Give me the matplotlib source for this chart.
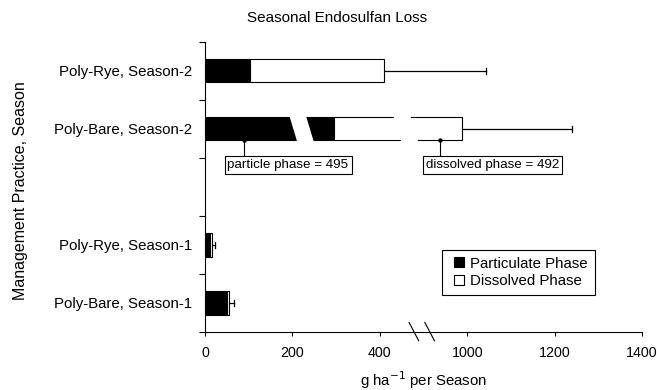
import matplotlib.pyplot as plt
from matplotlib.patches import Polygon
from matplotlib.lines import Line2D

plt.rcParams["font.family"] = ["Liberation Sans", "DejaVu Sans"]

# data, top to bottom (g ha-1 per season)
categories = ["Poly-Rye, Season-2", "Poly-Bare, Season-2",
              "Poly-Rye, Season-1", "Poly-Bare, Season-1"]
particulate = [103, 495, 11, 50]
dissolved = [306, 492, 6, 6]
err = [635, 253, 6, 10]
# amount hidden in the broken bar segments
cut = [0, 200, 0, 0]
slots = [0, 1, 3, 4]  # empty slot between seasons

tick_vals = [0, 200, 400, 1000, 1200, 1400]
BREAK_LO, BREAK_HI = 500, 900


def to_axis(v):
    # axis is broken between 500 and 900
    return v if v <= BREAK_LO else v - (BREAK_HI - BREAK_LO)


fig = plt.figure(figsize=(6.57, 3.90), dpi=100)
ax = fig.add_axes([205 / 657, 58 / 390, 437 / 657, 290.3 / 390])

h = 0.4
part_len = [p - c for p, c in zip(particulate, cut)]
tot_end = [to_axis(p + d) for p, d in zip(particulate, dissolved)]
dis_len = [t - p for t, p in zip(tot_end, part_len)]
err_end = [to_axis(p + d + e) for p, d, e in zip(particulate, dissolved, err)]

ax.barh(slots, part_len, height=h, color="black", edgecolor="black", lw=0.8, zorder=2)
ax.barh(slots, dis_len, left=part_len, height=h, color="white",
        edgecolor="black", lw=0.8, zorder=2)
for y, t, e in zip(slots, tot_end, err_end):
    ax.plot([t, e], [y, y], color="black", lw=0.9, zorder=1)
    ax.plot([e, e], [y - 0.05, y + 0.05], color="black", lw=0.9, zorder=1)

# slanted breaks inside the Poly-Bare, Season-2 bar
yb = slots[1]
for x0, w in [(194, 38), (432, 39)]:
    s = 16
    e = 0.03
    poly = Polygon([(x0 - s * e / h, yb - h / 2 - e), (x0 + w - s * e / h, yb - h / 2 - e),
                    (x0 + w + s + s * e / h, yb + h / 2 + e), (x0 + s + s * e / h, yb + h / 2 + e)],
                   closed=True, facecolor="white", edgecolor="none", zorder=3)
    ax.add_patch(poly)

# callouts
for lx, bx, txt in [(89, 190, "particle phase = 495"), (537, 658, "dissolved phase = 492")]:
    ax.plot([lx, lx], [yb + h / 2, 1.47], color="black", lw=0.8, zorder=4)
    ax.plot([lx], [yb + h / 2], marker="o", ms=2.2, color="black", zorder=4)
    ax.text(bx, 1.625, txt, ha="center", va="center", fontsize=9.6, zorder=5,
            bbox=dict(boxstyle="square,pad=0.22", fc="white", ec="black", lw=0.8))

ax.set_xlim(0, 1000)
ax.set_ylim(4.5, -0.5)
ax.set_xticks([to_axis(v) for v in tick_vals])
ax.set_xticklabels([str(v) for v in tick_vals])
ax.set_yticks([-0.5, 0.5, 1.5, 2.5, 3.5, 4.5])
ax.set_yticklabels([])
ax.set_yticks(slots, minor=True)
ax.set_yticklabels(categories, minor=True)
ax.tick_params(axis="y", which="minor", length=0, pad=9, labelsize=10.8)
ax.tick_params(axis="y", which="major", length=4, width=0.8, direction="out")
ax.tick_params(axis="x", length=3, width=0.8, direction="out", pad=7, labelsize=10.3)
for s in ["top", "right"]:
    ax.spines[s].set_visible(False)
for s in ["left", "bottom"]:
    ax.spines[s].set_linewidth(0.8)

# axis break marks
trans = ax.get_xaxis_transform()
for xb in [478, 514]:
    ax.plot([xb - 11, xb + 11], [0.033, -0.03], transform=trans, color="black",
            lw=0.8, clip_on=False)

handles = [Line2D([], [], ls="none", marker="s", ms=7, mfc="black", mec="black",
                  mew=0.8, label="Particulate Phase"),
           Line2D([], [], ls="none", marker="s", ms=7, mfc="white", mec="black",
                  mew=0.8, label="Dissolved Phase")]
ax.legend(handles=handles, loc="upper left", bbox_to_anchor=(0.542, 0.283), fontsize=10.8,
          frameon=True, fancybox=False, edgecolor="black", framealpha=1,
          handlelength=1.4, handletextpad=0.05,
          borderpad=0.45, labelspacing=0.25, borderaxespad=0)
ax.get_legend().get_frame().set_linewidth(0.8)

fig.text(337 / 657, 1 - 18 / 390, "Seasonal Endosulfan Loss", ha="center", va="center", fontsize=11)
fig.text(424 / 657, 1 - 380 / 390, "g ha$^{-1}$ per Season", ha="center", va="center", fontsize=10.8)
fig.text(21 / 657, 1 - 191 / 390, "Management Practice, Season", ha="center", va="center",
         rotation=90, fontsize=11.5)

fig.savefig("out.png", dpi=100)
